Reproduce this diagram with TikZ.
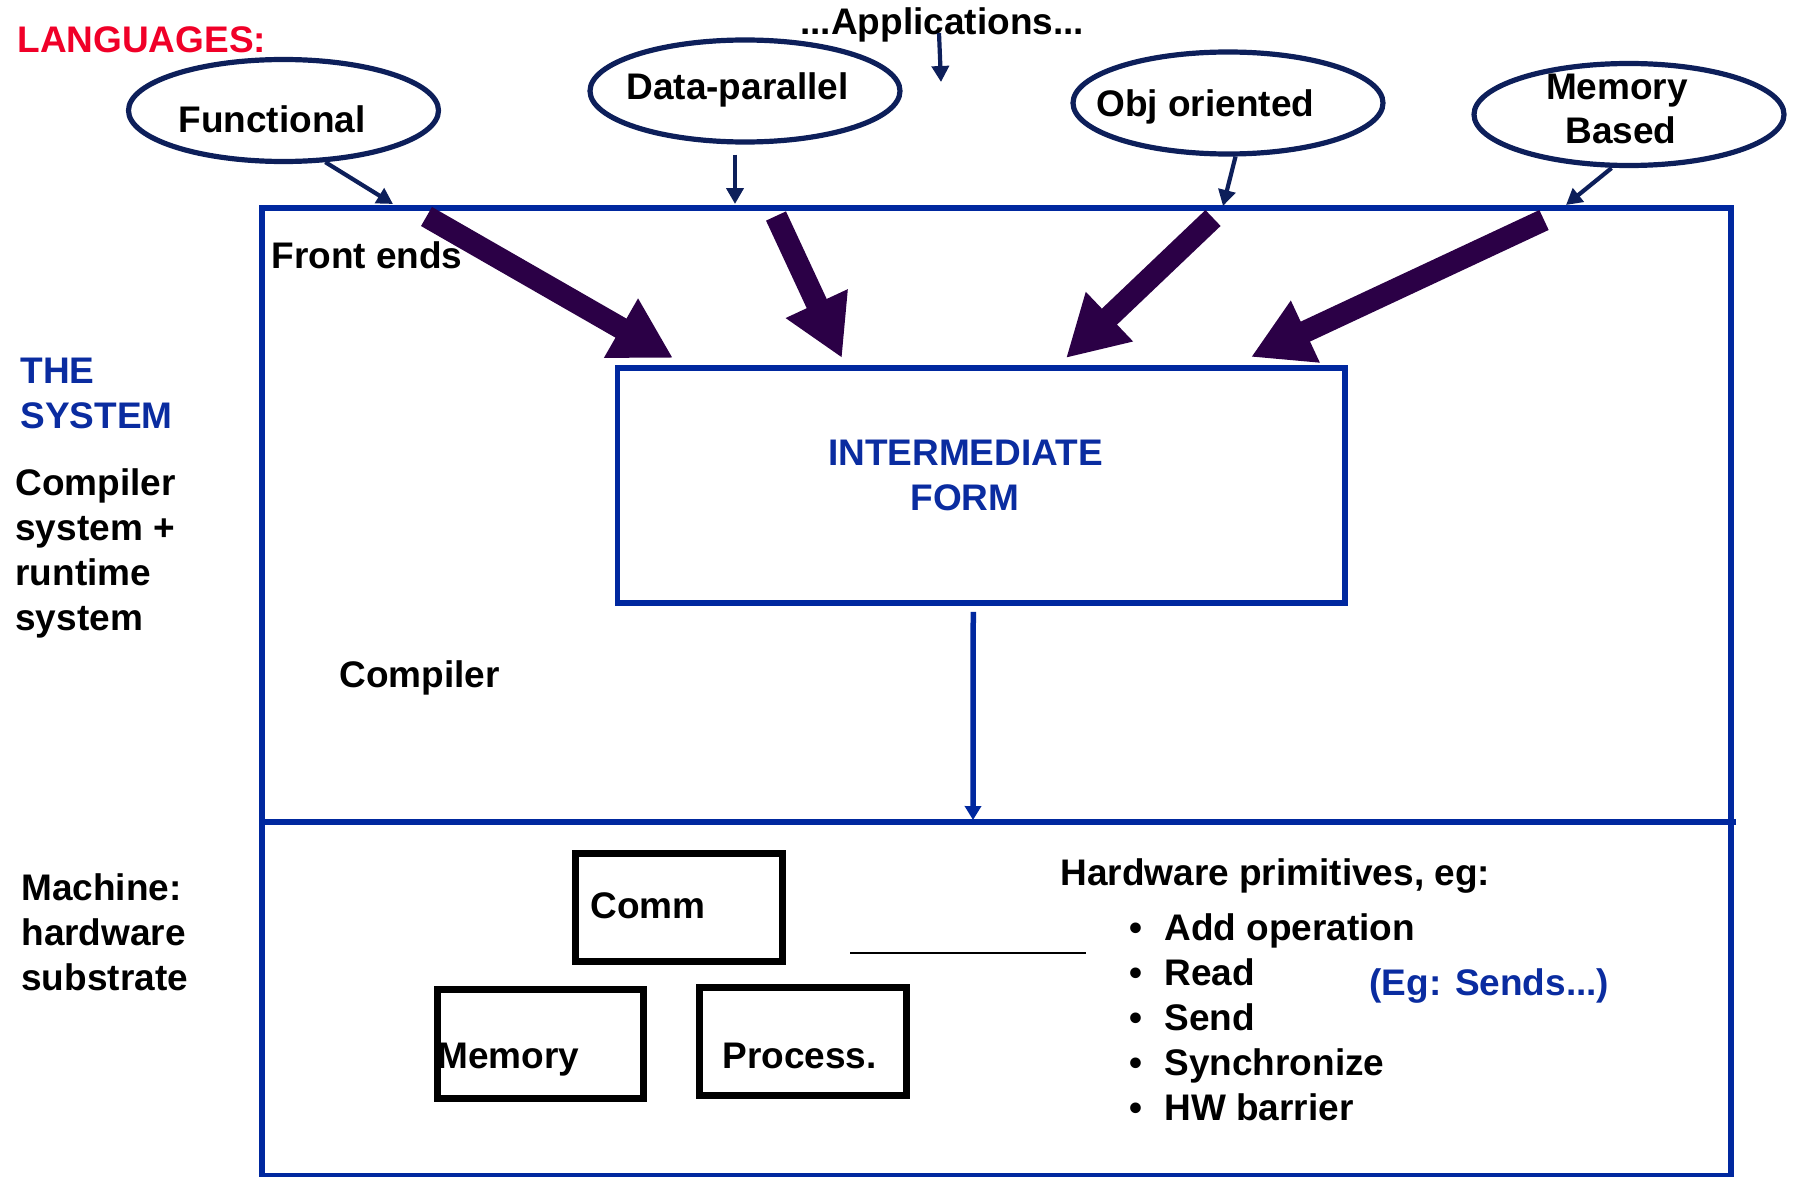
\documentclass[tikz,border=0pt]{standalone}
\usepackage{fontspec}
\setmainfont{Liberation Sans}
\usetikzlibrary{arrows.meta,shapes.geometric}
\definecolor{boxblue}{HTML}{00289F}
\definecolor{txtblue}{HTML}{0A2CA0}
\definecolor{langred}{HTML}{F00028}
\definecolor{fatpurple}{HTML}{2B0046}
\definecolor{navy}{HTML}{0D1F5A}
\begin{document}
\begin{tikzpicture}[x=0.5pt,y=-0.5pt,
  txt/.style={inner sep=0pt,anchor=base west,font=\fontsize{18.5}{22.5}\selectfont\bfseries},
  ctxt/.style={txt,anchor=base},
  langell/.style={ellipse,draw=navy,line width=2.6pt,minimum width=155pt,minimum height=51pt,inner sep=0pt},
  bluebox/.style={rectangle,draw=boxblue,line width=2.75pt,inner sep=0pt},
  hwbox/.style={rectangle,draw=black,line width=3.5pt,inner sep=0pt},
  fatarrow/.style={draw=fatpurple,line width=11pt,-{Triangle[width=32pt,length=30pt]}},
  thinarrow/.style={draw=navy,line width=2.1pt,-{Triangle[width=8.5pt,length=8pt]}},
  bluearrow/.style={draw=boxblue,line width=2.75pt,-{Triangle[width=8pt,length=7pt]}}
]
\useasboundingbox (0,0) rectangle (1793,1177);

% boxes
\node[bluebox,minimum width=734.5pt,minimum height=484pt] (outer) at (996.5,692) {};
\node[bluebox,minimum width=363.75pt,minimum height=117.5pt] (ifb) at (981.25,485.5) {};
\coordinate (dl) at (262,822);
\coordinate (dr) at (1736,822);
\draw[boxblue,line width=2.75pt] (dl) -- (dr);

% language ellipses
\node[langell] (func) at (283.5,110.5) {};
\node[langell] (dp) at (745,91) {};
\node[langell] (obj) at (1228,103) {};
\node[langell] (mem) at (1629,114.5) {};

% texts top
\node[txt,text=langred] (lang) at (17,53) {LANGUAGES:};
\node[txt] (app) at (800,35) {...Applications...};
\node[txt] (tfunc) at (178,133) {Functional};
\node[txt] (tdp) at (626,100) {Data-parallel};
\node[txt] (tobj) at (1096,117) {Obj oriented};
\node[ctxt] (tmem1) at (1617,100) {Memory};
\node[ctxt] (tmem2) at (1621,143) {Based};
\node[txt] (fe) at (271,268) {Front ends};

% left side texts
\node[txt,text=txtblue] (the) at (20,383) {THE};
\node[txt,text=txtblue] (sys) at (20,428) {SYSTEM};
\node[txt] (c1) at (15,495) {Compiler};
\node[txt] (c2) at (15,540) {system +};
\node[txt] (c3) at (15,585) {runtime};
\node[txt] (c4) at (15,630) {system};
\node[txt] (comp) at (339,687) {Compiler};
\node[txt] (m1) at (21,900) {Machine:};
\node[txt] (m2) at (21,945) {hardware};
\node[txt] (m3) at (21,990) {substrate};

% intermediate form
\node[ctxt,text=txtblue] (if1) at (965.5,465) {INTERMEDIATE};
\node[ctxt,text=txtblue] (if2) at (965,510) {FORM};

% hardware boxes
\node[hwbox,minimum width=103.5pt,minimum height=54pt] (comm) at (679,907.5) {};
\node[hwbox,minimum width=103pt,minimum height=54.5pt] (memb) at (540,1044) {};
\node[hwbox,minimum width=103.5pt,minimum height=54pt] (proc) at (803,1041.5) {};
\node[txt] (tcomm) at (590,918) {Comm};
\node[txt] (tmemb) at (437,1068) {Memory};
\node[txt] (tproc) at (722,1068) {Process.};

\coordinate (hl1) at (850,953);
\coordinate (hl2) at (1086,953);
\draw[black,line width=1pt] (hl1) -- (hl2);

% hardware primitives
\node[txt] (hwp) at (1060,885) {Hardware primitives, eg:};
\foreach \yy/\tt/\nm in {940/Add operation/b1,985/Read/b2,1030/Send/b3,1075/Synchronize/b4,1120/HW barrier/b5}{
  \node[txt] (\nm d) at (1129.5,\yy) {•};
  \node[txt] (\nm) at (1164,\yy) {\tt};
}
\node[txt,text=txtblue] (eg) at (1369,995) {(Eg: Sends...)};

% fat arrows
\coordinate (t1) at (426.5,216.5); \coordinate (h1) at (673,358);
\coordinate (t2) at (776,216);     \coordinate (h2) at (842,358);
\coordinate (t3) at (1213,218);    \coordinate (h3) at (1066,358);
\coordinate (t4) at (1544,220);    \coordinate (h4) at (1251,357);
\draw[fatarrow] (t1) -- (h1);
\draw[fatarrow] (t2) -- (h2);
\draw[fatarrow] (t3) -- (h3);
\draw[fatarrow] (t4) -- (h4);

% thin arrows
\coordinate (e1) at (393,204);
\coordinate (e2) at (735,204);
\coordinate (e3) at (1223,206);
\coordinate (e4) at (1566,205);
\coordinate (as) at (939,33);
\coordinate (ae) at (941,82);
\draw[thinarrow] (func.-51) -- (e1);
\draw[thinarrow] ([xshift=-5pt,yshift=-5pt]dp.south) -- (e2);
\draw[thinarrow] ([xshift=3.75pt]obj.south) -- (e3);
\draw[thinarrow] ([xshift=-8.75pt]mem.south) -- (e4);
\draw[thinarrow] (as) -- (ae);

% compiler arrow
\coordinate (de) at (973,820);
\draw[bluearrow] ([xshift=-4pt,yshift=-3pt]ifb.south) -- (de);
\end{tikzpicture}
\end{document}
